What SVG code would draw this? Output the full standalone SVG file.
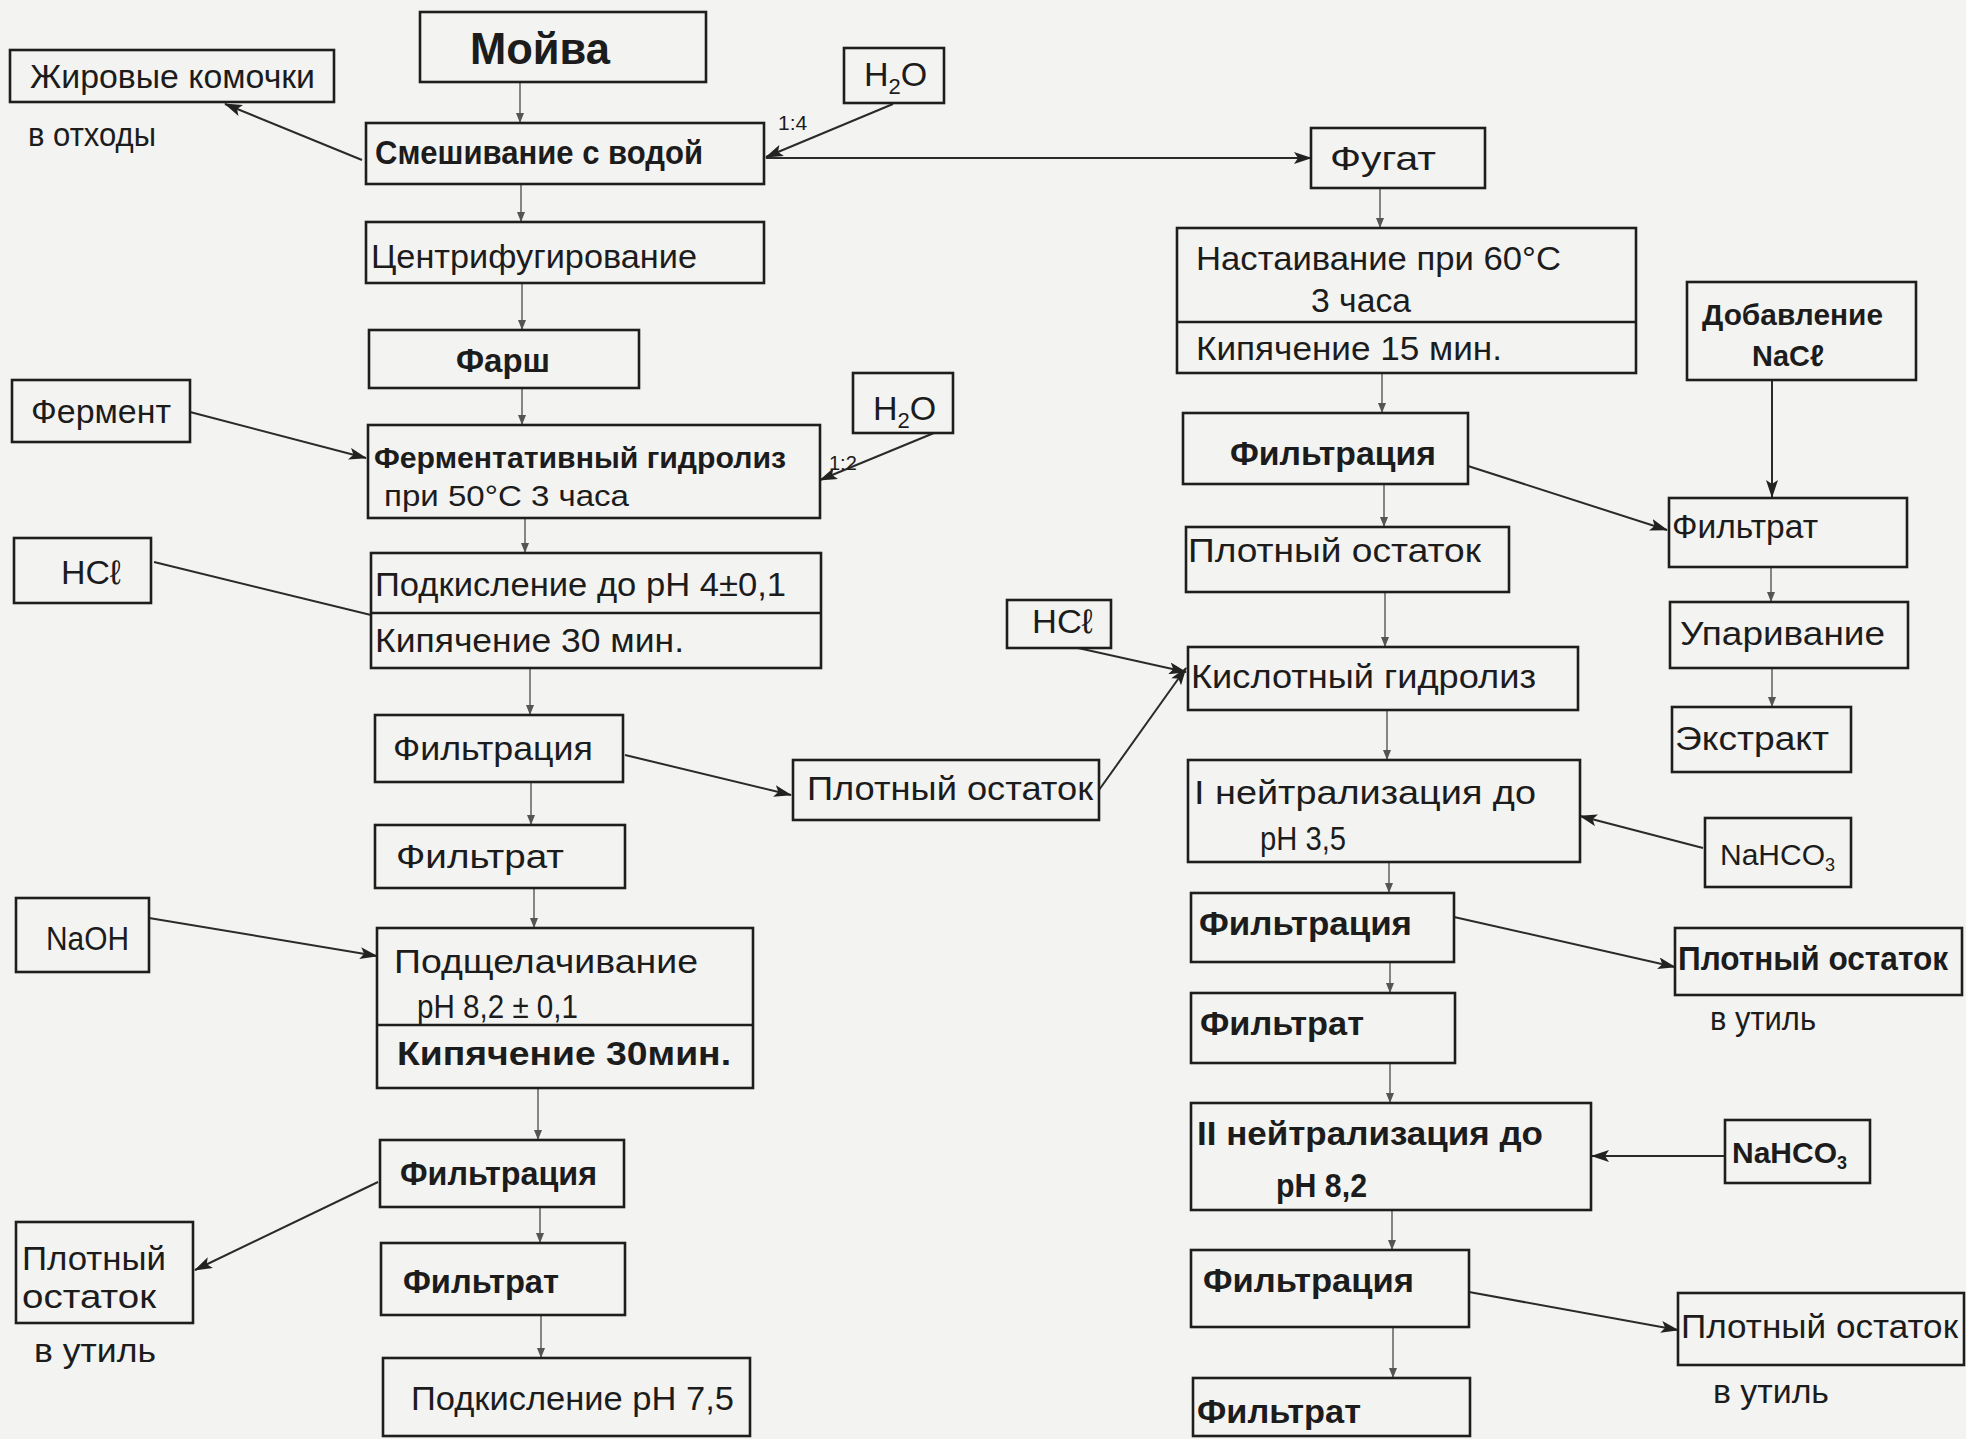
<svg xmlns="http://www.w3.org/2000/svg" width="1966" height="1439" viewBox="0 0 1966 1439">
<style>
.bx{fill:none;stroke:#1e1e1e;stroke-width:2.6}
.dv{stroke:#1e1e1e;stroke-width:2.4}
.t{font-family:"Liberation Sans",Arial,sans-serif;font-size:34px;fill:#1c1c1c}
.b{font-weight:bold}
.s{font-size:21px}
.c{fill:none;stroke:#2a2a2a;stroke-width:2}
.v{fill:none;stroke:#555;stroke-width:1.4}
</style>
<defs>
<marker id="ah" markerWidth="18" markerHeight="12" refX="17" refY="6" orient="auto" markerUnits="userSpaceOnUse"><path d="M0,0 L18,6 L0,12 L4,6 Z" fill="#222"/></marker>
<marker id="as" markerWidth="10" markerHeight="8" refX="10" refY="4" orient="auto" markerUnits="userSpaceOnUse"><path d="M0,0 L10,4 L0,8 Z" fill="#555"/></marker>
</defs>
<rect width="1966" height="1439" fill="#f3f3f1"/>

<g id="connectors">
<line class="v" x1="520" y1="82" x2="520" y2="123" marker-end="url(#as)"/>
<line class="v" x1="521" y1="184" x2="521" y2="222" marker-end="url(#as)"/>
<line class="v" x1="522" y1="283" x2="522" y2="330" marker-end="url(#as)"/>
<line class="v" x1="522" y1="388" x2="522" y2="425" marker-end="url(#as)"/>
<line class="v" x1="525" y1="518" x2="525" y2="553" marker-end="url(#as)"/>
<line class="v" x1="530" y1="668" x2="530" y2="715" marker-end="url(#as)"/>
<line class="v" x1="531" y1="782" x2="531" y2="825" marker-end="url(#as)"/>
<line class="v" x1="534" y1="888" x2="534" y2="928" marker-end="url(#as)"/>
<line class="v" x1="538" y1="1088" x2="538" y2="1140" marker-end="url(#as)"/>
<line class="v" x1="540" y1="1207" x2="540" y2="1243" marker-end="url(#as)"/>
<line class="v" x1="541" y1="1315" x2="541" y2="1358" marker-end="url(#as)"/>
<line class="v" x1="1380" y1="188" x2="1380" y2="228" marker-end="url(#as)"/>
<line class="v" x1="1382" y1="373" x2="1382" y2="413" marker-end="url(#as)"/>
<line class="v" x1="1384" y1="484" x2="1384" y2="527" marker-end="url(#as)"/>
<line class="v" x1="1385" y1="592" x2="1385" y2="647" marker-end="url(#as)"/>
<line class="v" x1="1387" y1="710" x2="1387" y2="760" marker-end="url(#as)"/>
<line class="v" x1="1389" y1="862" x2="1389" y2="893" marker-end="url(#as)"/>
<line class="v" x1="1390" y1="962" x2="1390" y2="993" marker-end="url(#as)"/>
<line class="v" x1="1390" y1="1063" x2="1390" y2="1103" marker-end="url(#as)"/>
<line class="v" x1="1392" y1="1210" x2="1392" y2="1250" marker-end="url(#as)"/>
<line class="v" x1="1393" y1="1327" x2="1393" y2="1378" marker-end="url(#as)"/>
<line class="v" x1="1771" y1="567" x2="1771" y2="602" marker-end="url(#as)"/>
<line class="v" x1="1772" y1="668" x2="1772" y2="707" marker-end="url(#as)"/>

<line class="c" x1="362" y1="160" x2="225" y2="104" marker-end="url(#ah)"/>
<line class="c" x1="893" y1="104" x2="766" y2="157" marker-end="url(#ah)"/>
<line class="c" x1="766" y1="158" x2="1311" y2="158" marker-end="url(#ah)"/>
<line class="c" x1="190" y1="412" x2="366" y2="458" marker-end="url(#ah)"/>
<line class="c" x1="934" y1="433" x2="820" y2="480" marker-end="url(#ah)"/>
<line class="c" x1="154" y1="562" x2="371" y2="615"/>
<line class="c" x1="625" y1="755" x2="791" y2="795" marker-end="url(#ah)"/>
<line class="c" x1="1099" y1="790" x2="1186" y2="668" marker-end="url(#ah)"/>
<line class="c" x1="1078" y1="648" x2="1186" y2="672" marker-end="url(#ah)"/>
<line class="c" x1="149" y1="918" x2="377" y2="956" marker-end="url(#ah)"/>
<line class="c" x1="378" y1="1182" x2="195" y2="1270" marker-end="url(#ah)"/>
<line class="c" x1="1468" y1="466" x2="1667" y2="530" marker-end="url(#ah)"/>
<line class="c" x1="1772" y1="380" x2="1772" y2="497" marker-end="url(#ah)"/>
<line class="c" x1="1703" y1="848" x2="1580" y2="816" marker-end="url(#ah)"/>
<line class="c" x1="1454" y1="917" x2="1675" y2="967" marker-end="url(#ah)"/>
<line class="c" x1="1725" y1="1156" x2="1592" y2="1156" marker-end="url(#ah)"/>
<line class="c" x1="1469" y1="1292" x2="1678" y2="1330" marker-end="url(#ah)"/>
</g>

<g id="n-zhir"><rect class="bx" x="10" y="50" width="324" height="52"/><text class="t" x="30" y="88" textLength="285" lengthAdjust="spacingAndGlyphs">Жировые комочки</text></g>
<g id="l-othody"><text class="t" x="28" y="146" textLength="128" lengthAdjust="spacingAndGlyphs">в отходы</text></g>
<g id="n-moyva"><rect class="bx" x="420" y="12" width="286" height="70"/><text class="t b" x="470" y="64" style="font-size:44px" textLength="140" lengthAdjust="spacingAndGlyphs">Мойва</text></g>
<g id="n-h2o1"><rect class="bx" x="844" y="48" width="100" height="55"/><text class="t" x="864" y="86">H<tspan font-size="22" dy="8">2</tspan><tspan dy="-8">O</tspan></text></g>
<g id="l-14"><text class="t s" x="778" y="130">1:4</text></g>
<g id="n-smesh"><rect class="bx" x="366" y="123" width="398" height="61"/><text class="t b" x="375" y="164" textLength="328" lengthAdjust="spacingAndGlyphs">Смешивание с водой</text></g>
<g id="n-fugat"><rect class="bx" x="1311" y="128" width="174" height="60"/><text class="t" x="1330" y="170" textLength="106" lengthAdjust="spacingAndGlyphs">Фугат</text></g>
<g id="n-centr"><rect class="bx" x="366" y="222" width="398" height="61"/><text class="t" x="371" y="268" textLength="326" lengthAdjust="spacingAndGlyphs">Центрифугирование</text></g>
<g id="n-farsh"><rect class="bx" x="369" y="330" width="270" height="58"/><text class="t b" x="456" y="372" textLength="94" lengthAdjust="spacingAndGlyphs">Фарш</text></g>
<g id="n-ferment"><rect class="bx" x="12" y="380" width="178" height="62"/><text class="t" x="31" y="423" textLength="140" lengthAdjust="spacingAndGlyphs">Фермент</text></g>
<g id="n-h2o2"><rect class="bx" x="853" y="373" width="100" height="60"/><text class="t" x="873" y="420">H<tspan font-size="22" dy="8">2</tspan><tspan dy="-8">O</tspan></text></g>
<g id="l-12"><text class="t s" x="829" y="470" style="font-size:20px">1:2</text></g>
<g id="n-fgidr"><rect class="bx" x="368" y="425" width="452" height="93"/><text class="t b" x="374" y="468" style="font-size:30px" textLength="412" lengthAdjust="spacingAndGlyphs">Ферментативный гидролиз</text><text class="t" x="384" y="506" style="font-size:30px" textLength="245" lengthAdjust="spacingAndGlyphs">при 50°С  3 часа</text></g>
<g id="n-hcl1"><rect class="bx" x="14" y="538" width="137" height="65"/><text class="t" x="61" y="584" textLength="60" lengthAdjust="spacingAndGlyphs">НСℓ</text></g>
<g id="n-podk1"><rect class="bx" x="371" y="553" width="450" height="115"/><line class="dv" x1="371" y1="613" x2="821" y2="613"/><text class="t" x="375" y="596" textLength="411" lengthAdjust="spacingAndGlyphs">Подкисление  до рН 4±0,1</text><text class="t" x="375" y="652" textLength="309" lengthAdjust="spacingAndGlyphs">Кипячение  30 мин.</text></g>
<g id="n-filt1"><rect class="bx" x="375" y="715" width="248" height="67"/><text class="t" x="393" y="760" textLength="200" lengthAdjust="spacingAndGlyphs">Фильтрация</text></g>
<g id="n-plot1"><rect class="bx" x="793" y="760" width="306" height="60"/><text class="t" x="807" y="800" textLength="286" lengthAdjust="spacingAndGlyphs">Плотный остаток</text></g>
<g id="n-filtrat1"><rect class="bx" x="375" y="825" width="250" height="63"/><text class="t" x="396" y="868" textLength="168" lengthAdjust="spacingAndGlyphs">Фильтрат</text></g>
<g id="n-naoh"><rect class="bx" x="16" y="898" width="133" height="74"/><text class="t" x="46" y="950" textLength="83" lengthAdjust="spacingAndGlyphs">NaOH</text></g>
<g id="n-podsh"><rect class="bx" x="377" y="928" width="376" height="160"/><line class="dv" x1="377" y1="1025" x2="753" y2="1025"/><text class="t" x="394" y="973" textLength="304" lengthAdjust="spacingAndGlyphs">Подщелачивание</text><text class="t" x="417" y="1018" textLength="161" lengthAdjust="spacingAndGlyphs">рН 8,2 ± 0,1</text><text class="t b" x="397" y="1065" textLength="334" lengthAdjust="spacingAndGlyphs">Кипячение 30мин.</text></g>
<g id="n-filt2"><rect class="bx" x="380" y="1140" width="244" height="67"/><text class="t b" x="400" y="1185" textLength="197" lengthAdjust="spacingAndGlyphs">Фильтрация</text></g>
<g id="n-plot2"><rect class="bx" x="16" y="1222" width="177" height="101"/><text class="t" x="22" y="1270" textLength="144" lengthAdjust="spacingAndGlyphs">Плотный</text><text class="t" x="22" y="1308" textLength="134" lengthAdjust="spacingAndGlyphs">остаток</text></g>
<g id="l-util1"><text class="t" x="34" y="1362" textLength="122" lengthAdjust="spacingAndGlyphs">в утиль</text></g>
<g id="n-filtrat2"><rect class="bx" x="381" y="1243" width="244" height="72"/><text class="t b" x="403" y="1293" textLength="156" lengthAdjust="spacingAndGlyphs">Фильтрат</text></g>
<g id="n-podk2"><rect class="bx" x="383" y="1358" width="367" height="78"/><text class="t" x="411" y="1410" textLength="323" lengthAdjust="spacingAndGlyphs">Подкисление рН 7,5</text></g>

<g id="n-nast"><rect class="bx" x="1177" y="228" width="459" height="145"/><line class="dv" x1="1177" y1="322" x2="1636" y2="322"/><text class="t" x="1196" y="270" textLength="365" lengthAdjust="spacingAndGlyphs">Настаивание  при 60°С</text><text class="t" x="1311" y="312" textLength="100" lengthAdjust="spacingAndGlyphs">3 часа</text><text class="t" x="1196" y="360" textLength="306" lengthAdjust="spacingAndGlyphs">Кипячение  15 мин.</text></g>
<g id="n-dob"><rect class="bx" x="1687" y="282" width="229" height="98"/><text class="t b" x="1702" y="325" style="font-size:30px" textLength="181" lengthAdjust="spacingAndGlyphs">Добавление</text><text class="t b" x="1752" y="366" style="font-size:30px" textLength="72" lengthAdjust="spacingAndGlyphs">NaCℓ</text></g>
<g id="n-rfilt1"><rect class="bx" x="1183" y="413" width="285" height="71"/><text class="t b" x="1230" y="465" textLength="206" lengthAdjust="spacingAndGlyphs">Фильтрация</text></g>
<g id="n-rfiltrat0"><rect class="bx" x="1669" y="498" width="238" height="69"/><text class="t" x="1672" y="538" textLength="146" lengthAdjust="spacingAndGlyphs">Фильтрат</text></g>
<g id="n-rplot1"><rect class="bx" x="1186" y="527" width="323" height="65"/><text class="t" x="1188" y="562" textLength="293" lengthAdjust="spacingAndGlyphs">Плотный  остаток</text></g>
<g id="n-upar"><rect class="bx" x="1670" y="602" width="238" height="66"/><text class="t" x="1680" y="645" textLength="205" lengthAdjust="spacingAndGlyphs">Упаривание</text></g>
<g id="n-hcl2"><rect class="bx" x="1007" y="600" width="104" height="48"/><text class="t" x="1032" y="633" textLength="61" lengthAdjust="spacingAndGlyphs">НСℓ</text></g>
<g id="n-kisl"><rect class="bx" x="1188" y="647" width="390" height="63"/><text class="t" x="1191" y="688" textLength="345" lengthAdjust="spacingAndGlyphs">Кислотный  гидролиз</text></g>
<g id="n-ekstr"><rect class="bx" x="1672" y="707" width="179" height="65"/><text class="t" x="1675" y="750" textLength="154" lengthAdjust="spacingAndGlyphs">Экстракт</text></g>
<g id="n-neitr1"><rect class="bx" x="1188" y="760" width="392" height="102"/><text class="t" x="1194" y="804" textLength="342" lengthAdjust="spacingAndGlyphs">I нейтрализация до</text><text class="t" x="1260" y="850" textLength="86" lengthAdjust="spacingAndGlyphs">рН 3,5</text></g>
<g id="n-nahco1"><rect class="bx" x="1705" y="818" width="146" height="69"/><text class="t" x="1720" y="865" style="font-size:30px">NaHCO<tspan font-size="18" dy="6">3</tspan></text></g>
<g id="n-rfilt2"><rect class="bx" x="1191" y="893" width="263" height="69"/><text class="t b" x="1199" y="935" textLength="213" lengthAdjust="spacingAndGlyphs">Фильтрация</text></g>
<g id="n-rplot2"><rect class="bx" x="1675" y="928" width="287" height="67"/><text class="t b" x="1678" y="970" textLength="270" lengthAdjust="spacingAndGlyphs">Плотный остаток</text></g>
<g id="l-util2"><text class="t" x="1710" y="1030" textLength="106" lengthAdjust="spacingAndGlyphs">в утиль</text></g>
<g id="n-rfiltrat1"><rect class="bx" x="1191" y="993" width="264" height="70"/><text class="t b" x="1200" y="1035" textLength="164" lengthAdjust="spacingAndGlyphs">Фильтрат</text></g>
<g id="n-neitr2"><rect class="bx" x="1191" y="1103" width="400" height="107"/><text class="t b" x="1197" y="1145" textLength="346" lengthAdjust="spacingAndGlyphs">II нейтрализация до</text><text class="t b" x="1276" y="1197" textLength="91" lengthAdjust="spacingAndGlyphs">рН 8,2</text></g>
<g id="n-nahco2"><rect class="bx" x="1725" y="1120" width="145" height="63"/><text class="t b" x="1732" y="1163" style="font-size:30px">NaHCO<tspan font-size="18" dy="6">3</tspan></text></g>
<g id="n-rfilt3"><rect class="bx" x="1191" y="1250" width="278" height="77"/><text class="t b" x="1203" y="1292" textLength="211" lengthAdjust="spacingAndGlyphs">Фильтрация</text></g>
<g id="n-rplot3"><rect class="bx" x="1678" y="1293" width="286" height="72"/><text class="t" x="1681" y="1338" textLength="277" lengthAdjust="spacingAndGlyphs">Плотный  остаток</text></g>
<g id="l-util3"><text class="t" x="1713" y="1403" textLength="116" lengthAdjust="spacingAndGlyphs">в утиль</text></g>
<g id="n-rfiltrat2"><rect class="bx" x="1193" y="1378" width="277" height="58"/><text class="t b" x="1197" y="1423" textLength="164" lengthAdjust="spacingAndGlyphs">Фильтрат</text></g>
</svg>
